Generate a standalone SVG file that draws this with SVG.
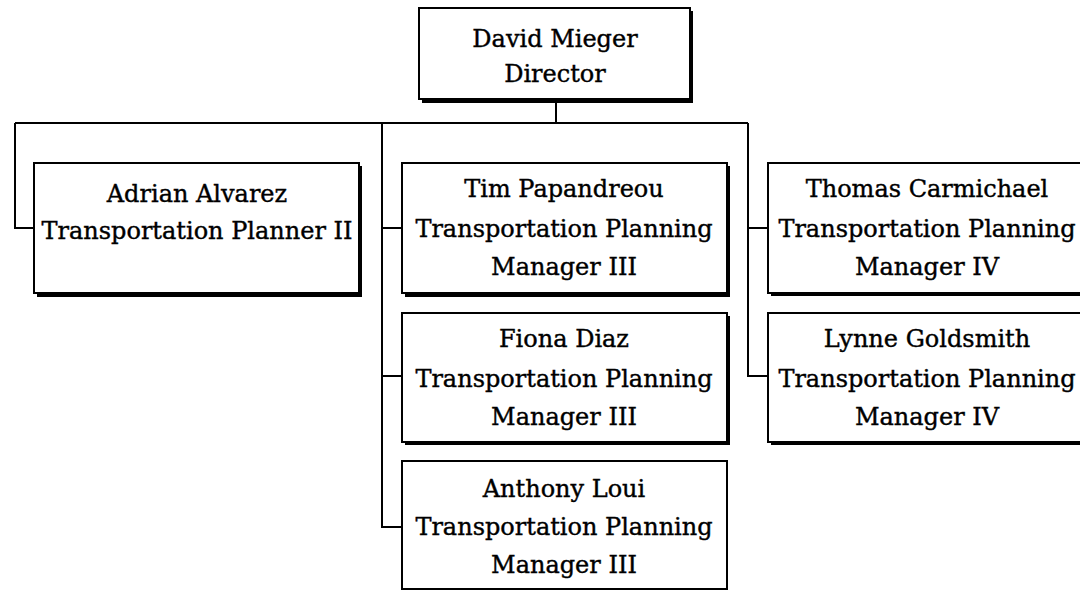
<svg xmlns="http://www.w3.org/2000/svg" width="1080" height="592" viewBox="0 0 1080 592">
<style>
.sh{fill:#000}
.bx{fill:#fff;stroke:#000;stroke-width:2}
.t{font-family:"DejaVu Serif","Liberation Serif",serif;font-size:24px;fill:#000;stroke:#000;stroke-width:0.4;text-anchor:middle}
.c{fill:none;stroke:#000;stroke-width:2}
</style>
<rect width="1080" height="592" fill="#fff"/>
<g id="connectors">
<path class="c" d="M556 100V123M15 123H748M15 123V228H34M382 123V527H402M382 228H402M382 376H402M748 123V376H768M748 228H768"/>
</g>
<g id="david">
<rect class="sh" x="422" y="11" width="271" height="92"/>
<rect class="bx" x="419" y="8" width="271" height="91"/>
<text class="t" x="555" y="47">David Mieger</text>
<text class="t" x="555" y="82">Director</text>
</g>
<g id="adrian">
<rect class="sh" x="37" y="166" width="325" height="131"/>
<rect class="bx" x="34" y="163" width="325" height="130"/>
<text class="t" x="197" y="202">Adrian Alvarez</text>
<text class="t" x="197" y="239">Transportation Planner II</text>
</g>
<g id="tim">
<rect class="sh" x="405" y="166" width="325" height="131"/>
<rect class="bx" x="402" y="163" width="325" height="130"/>
<text class="t" x="564" y="197">Tim Papandreou</text>
<text class="t" x="564" y="237">Transportation Planning</text>
<text class="t" x="564" y="275">Manager III</text>
</g>
<g id="fiona">
<rect class="sh" x="405" y="316" width="325" height="129"/>
<rect class="bx" x="402" y="313" width="325" height="129"/>
<text class="t" x="564" y="347">Fiona Diaz</text>
<text class="t" x="564" y="387">Transportation Planning</text>
<text class="t" x="564" y="425">Manager III</text>
</g>
<g id="anthony">
<rect class="bx" x="402" y="461" width="325" height="128"/>
<text class="t" x="564" y="497">Anthony Loui</text>
<text class="t" x="564" y="535">Transportation Planning</text>
<text class="t" x="564" y="573">Manager III</text>
</g>
<g id="thomas">
<rect class="sh" x="771" y="166" width="325" height="130"/>
<rect class="bx" x="768" y="163" width="325" height="130"/>
<text class="t" x="927" y="197">Thomas Carmichael</text>
<text class="t" x="927" y="237">Transportation Planning</text>
<text class="t" x="927" y="275">Manager IV</text>
</g>
<g id="lynne">
<rect class="sh" x="771" y="316" width="325" height="129"/>
<rect class="bx" x="768" y="313" width="325" height="129"/>
<text class="t" x="927" y="347">Lynne Goldsmith</text>
<text class="t" x="927" y="387">Transportation Planning</text>
<text class="t" x="927" y="425">Manager IV</text>
</g>
</svg>
